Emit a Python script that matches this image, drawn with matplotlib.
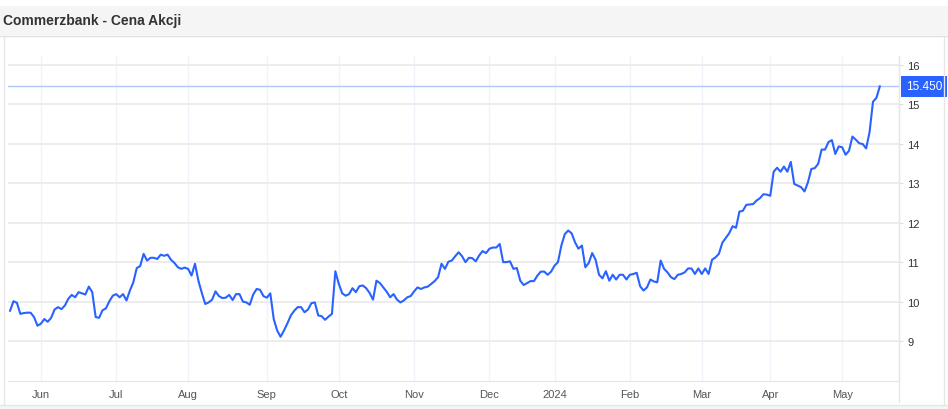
import numpy as np
import pandas as pd
import matplotlib
matplotlib.use('Agg')
import matplotlib.pyplot as plt
import matplotlib.transforms as mtransforms
from matplotlib.patches import Rectangle
from matplotlib.lines import Line2D

plt.rcParams['font.family'] = ['Liberation Sans', 'DejaVu Sans']

title = 'Commerzbank - Cena Akcji'
first_day = '2023-05-19'
holidays = ['2023-12-25', '2023-12-26', '2024-01-01', '2024-03-29', '2024-04-01', '2024-05-01']

# daily closes, May 2023 - May 2024
price = [
    # May / Jun / Jul 2023
    9.77, 10.01, 9.97, 9.69, 9.71, 9.72, 9.72, 9.61, 9.39, 9.44, 9.56, 9.49, 9.59,
    9.80, 9.86, 9.81, 9.90, 10.07, 10.17, 10.11, 10.24, 10.21, 10.18, 10.38, 10.24,
    9.61, 9.59, 9.78, 9.83, 10.01, 10.15, 10.19, 10.11, 10.19, 10.03, 10.28, 10.49,
    10.85, 10.90, 11.21, 11.04, 11.11, 11.11, 11.08, 11.19, 11.16, 11.19, 11.06,
    10.98, 10.87, 10.83,
    # Aug / Sep / Oct
    10.86, 10.83, 10.66, 10.96, 10.53, 10.22, 9.94, 9.98, 10.05, 10.26, 10.14, 10.09,
    10.10, 10.17, 10.04, 10.19, 10.19, 10.00, 9.98, 9.92, 10.18, 10.32, 10.30, 10.14,
    10.10, 10.21, 9.56, 9.27, 9.11, 9.27, 9.45, 9.65, 9.77, 9.86, 9.86, 9.73, 9.80,
    9.96, 9.98, 9.65, 9.63, 9.54, 9.62, 9.69, 10.77, 10.45, 10.21, 10.15, 10.19,
    10.34, 10.24, 10.39, 10.41,
    # Oct / Nov / Dec
    10.34, 10.22, 10.05, 10.53, 10.47, 10.36, 10.25, 10.11, 10.19, 10.05, 9.98,
    10.03, 10.11, 10.14, 10.26, 10.36, 10.32, 10.36, 10.38, 10.45, 10.52, 10.62,
    10.96, 10.83, 11.01, 11.04, 11.15, 11.25, 11.15, 11.00, 11.11, 11.10, 11.02,
    11.17, 11.28, 11.23, 11.34, 11.37, 11.37, 11.46, 11.00, 11.00, 11.02, 10.83,
    10.85, 10.53, 10.42, 10.47, 10.52, 10.52, 10.66, 10.76,
    # Jan / Feb 2024
    10.76, 10.68, 10.76, 10.91, 11.00, 11.42, 11.71, 11.80, 11.73, 11.50, 11.34,
    11.42, 10.87, 10.98, 11.23, 11.06, 10.68, 10.59, 10.77, 10.53, 10.68, 10.56,
    10.68, 10.68, 10.56, 10.68, 10.70, 10.73, 10.39, 10.28, 10.36, 10.56, 10.51,
    10.49, 11.04, 10.83, 10.74, 10.62, 10.57, 10.68, 10.70, 10.74, 10.84, 10.84,
    10.70, 10.84, 10.70, 10.84, 10.70,
    # Mar / Apr / May
    11.06, 11.12, 11.21, 11.49, 11.61, 11.73, 11.91, 11.87, 12.28, 12.30, 12.45,
    12.46, 12.47, 12.56, 12.62, 12.72, 12.71, 12.68, 13.29, 13.39, 13.29, 13.42,
    13.29, 13.54, 12.98, 12.94, 12.90, 12.79, 13.02, 13.36, 13.38, 13.49, 13.85,
    13.85, 14.04, 14.09, 13.74, 13.93, 13.91, 13.72, 13.82, 14.18, 14.10, 14.01,
    13.99, 13.88, 14.29, 15.06, 15.16, 15.45,
]
y_ticks = [9, 10, 11, 12, 13, 14, 15, 16]
month_labels = ['Jun', 'Jul', 'Aug', 'Sep', 'Oct', 'Nov', 'Dec', '2024', 'Feb', 'Mar', 'Apr', 'May']

days = pd.bdate_range(first_day, periods=len(price), freq='C', holidays=holidays)
x = np.arange(len(price))
idx = pd.Series(x, index=days)
month_starts = idx.groupby(days.to_period('M')).first().values[1:]

W, H = 948, 410


def box(l, t, r, b):
    return [l / W, 1 - b / H, (r - l) / W, (b - t) / H]


fig = plt.figure(figsize=(W / 100, H / 100), dpi=100)
fig.patch.set_facecolor('white')

# title bar
fig.add_artist(Rectangle((0, 1 - 36 / H), 1, 29 / H, transform=fig.transFigure,
                         fc='#f5f5f5', ec='none'))
fig.add_artist(Line2D([0, 1], [1 - 36.5 / H] * 2, transform=fig.transFigure,
                      color='#e0e0e0', lw=1))
fig.text(3 / W, 1 - 21.5 / H, title, fontsize=10, fontweight='bold',
         color='#333333', va='center', ha='left')

# frame of the chart box
fig.add_artist(Rectangle((0, 0), 1, 4 / H, transform=fig.transFigure,
                         fc='#f5f5f5', ec='none'))
fig.add_artist(Line2D([0, 1], [4.5 / H] * 2, transform=fig.transFigure, color='#e6e6e6', lw=1))
fig.add_artist(Line2D([3.5 / W] * 2, [4 / H, 1 - 37 / H], transform=fig.transFigure,
                      color='#e6e6e6', lw=1))
fig.add_artist(Line2D([943.5 / W] * 2, [4 / H, 1 - 37 / H], transform=fig.transFigure,
                      color='#e6e6e6', lw=1))
fig.add_artist(Line2D([899 / W] * 2, [7 / H, 1 - 57 / H], transform=fig.transFigure,
                      color='#e6e6e6', lw=1))

ax = fig.add_axes(box(8, 57, 899, 382))
ax.set_facecolor('white')

ax.plot(x, price, color='#2962ff', lw=1.5, zorder=3, solid_joinstyle='round')

last = price[-1]
ax.axhline(last, color='#b3c6f9', lw=1, zorder=2)
blend = mtransforms.blended_transform_factory(ax.transAxes, ax.transData)
ax.text(1.0075, last, f'{last:.3f}', transform=blend, ha='left', va='center',
        fontsize=8.5, color='white', clip_on=False,
        bbox=dict(boxstyle='square,pad=0.4', fc='#2962ff', ec='none'))

ax.set_xlim(-0.6, 259.6)
ax.set_ylim(7.99, 16.22)

ax.set_yticks(y_ticks)
ax.set_yticklabels([str(v) for v in y_ticks])
ax.yaxis.tick_right()
ax.tick_params(axis='y', length=3, color='#dddddd', pad=3, labelsize=8, labelcolor='#333333')

ax.set_xticks(month_starts)
ax.set_xticklabels(month_labels)
ax.tick_params(axis='x', length=0, pad=6, labelsize=8, labelcolor='#555555')

ax.grid(axis='y', color='#ebebeb', lw=1.3, zorder=0)
ax.grid(axis='x', color='#f0f3fa', lw=1, zorder=0)
ax.set_axisbelow(True)

for side in ['top', 'left']:
    ax.spines[side].set_visible(False)
ax.spines['right'].set_color('#e6e6e6')
ax.spines['bottom'].set_color('#e6e6e6')

fig.savefig('out.png', dpi=100)
